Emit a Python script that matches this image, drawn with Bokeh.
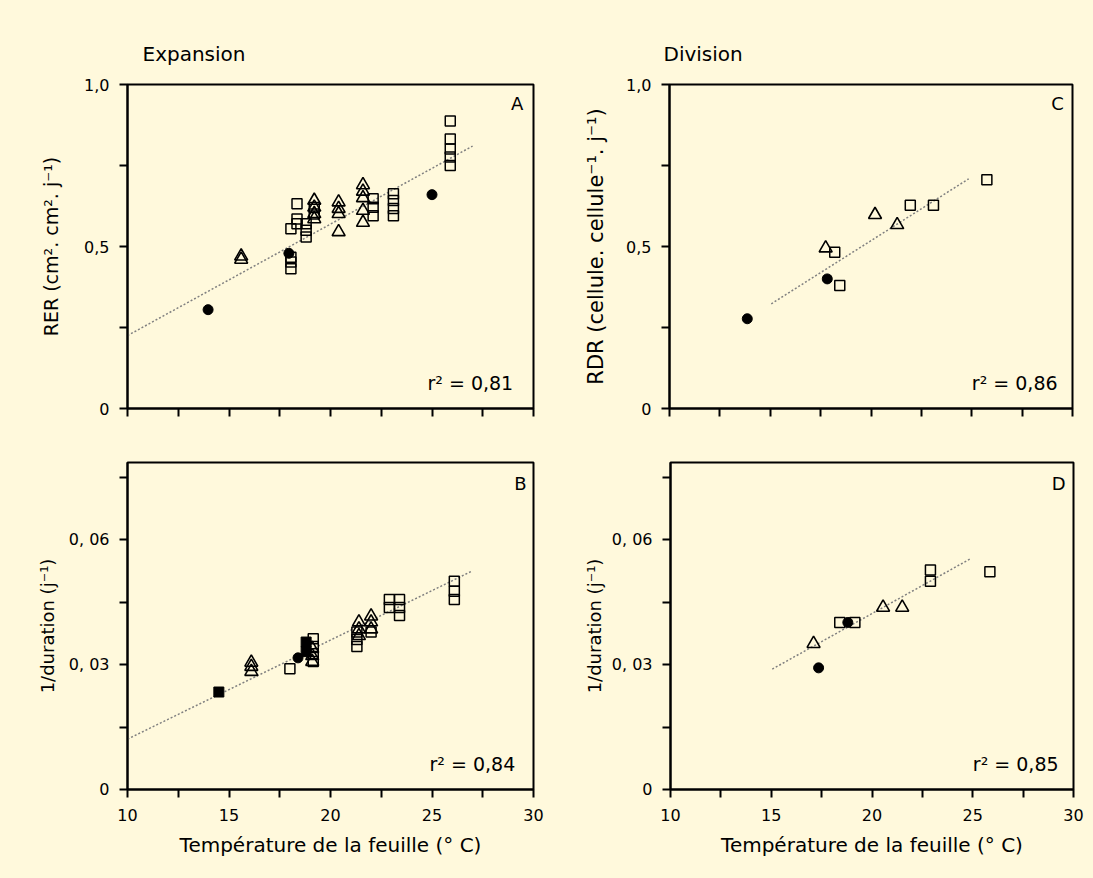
from bokeh.plotting import figure
from bokeh.models import Range1d, FixedTicker, CustomJSTickFormatter, Label
from bokeh.layouts import column, row
from bokeh.embed import file_html
from bokeh.resources import INLINE

BG = "#FFF9DC"
FONT = "DejaVu Sans"

# ---------------- axes ----------------
x_ticks = [10, 12.5, 15, 17.5, 20, 22.5, 25, 27.5, 30]
x_tick_labels = ["10", "", "15", "", "20", "", "25", "", "30"]
x_blank_labels = [""] * 9
rate_ticks = [0, 0.25, 0.5, 0.75, 1.0]
rate_tick_labels = ["0", "", "0,5", "", "1,0"]
dur_ticks = [0, 0.015, 0.03, 0.045, 0.06, 0.075]
dur_tick_labels = ["0", "", "0, 03", "", "0, 06", ""]

# ---------------- panel A : RER (expansion) ----------------
a_sq_x = [18.05, 18.05, 18.05, 18.05, 18.35, 18.35, 18.35, 18.8, 18.8, 18.8, 19.2, 19.2,
          22.1, 22.1, 22.1, 23.1, 23.1, 23.1, 23.1, 25.9, 25.9, 25.9, 25.9, 25.9]
a_sq_y = [0.555, 0.467, 0.452, 0.431, 0.632, 0.585, 0.570, 0.570, 0.550, 0.529, 0.620, 0.600,
          0.647, 0.621, 0.595, 0.663, 0.642, 0.617, 0.595, 0.887, 0.832, 0.801, 0.776, 0.750]
a_tri_x = [15.6, 15.6, 19.2, 19.2, 19.2, 19.2, 20.4, 20.4, 20.4, 20.4,
           21.6, 21.6, 21.6, 21.6, 21.6]
a_tri_y = [0.460, 0.470, 0.642, 0.621, 0.601, 0.585, 0.637, 0.617, 0.601, 0.545,
           0.690, 0.670, 0.650, 0.611, 0.574]
a_cir_x = [13.97, 17.95, 25.0]
a_cir_y = [0.305, 0.479, 0.660]
a_fit_x = [10, 27]
a_fit_y = [0.225, 0.810]
a_r2 = "r² = 0,81"

# ---------------- panel B : 1/duration (expansion) ----------------
b_sq_x = [18.0, 19.15, 19.15, 19.15, 19.15, 21.3, 21.3, 21.3, 22.0, 22.9, 22.9,
          23.4, 23.4, 23.4, 26.1, 26.1, 26.1]
b_sq_y = [0.0290, 0.0362, 0.0343, 0.0326, 0.0307, 0.0378, 0.0360, 0.0343, 0.0378, 0.0456, 0.0437,
          0.0456, 0.0437, 0.0418, 0.0500, 0.0476, 0.0456]
b_tri_x = [16.1, 16.1, 16.1, 19.1, 19.1, 19.1, 21.4, 21.4, 21.4, 22.0, 22.0, 22.0]
b_tri_y = [0.0305, 0.0295, 0.0283, 0.0338, 0.0321, 0.0307, 0.0402, 0.0385, 0.0369,
           0.0416, 0.0402, 0.0385]
b_fsq_x = [14.5, 18.8, 18.8]
b_fsq_y = [0.0234, 0.0354, 0.0331]
b_cir_x = [18.4]
b_cir_y = [0.0316]
b_fit_x = [10, 27]
b_fit_y = [0.0121, 0.0525]
b_r2 = "r² = 0,84"

# ---------------- panel C : RDR (division) ----------------
c_sq_x = [18.2, 18.45, 21.95, 23.1, 25.75]
c_sq_y = [0.482, 0.380, 0.627, 0.627, 0.706]
c_tri_x = [17.75, 20.2, 21.3]
c_tri_y = [0.495, 0.598, 0.567]
c_cir_x = [13.86, 17.83]
c_cir_y = [0.277, 0.400]
c_fit_x = [15.05, 24.85]
c_fit_y = [0.323, 0.709]
c_r2 = "r² = 0,86"

# ---------------- panel D : 1/duration (division) ----------------
d_sq_x = [18.4, 19.15, 22.9, 22.9, 25.85]
d_sq_y = [0.0401, 0.0401, 0.0527, 0.0500, 0.0523]
d_tri_x = [17.1, 20.55, 21.5]
d_tri_y = [0.0350, 0.0437, 0.0437]
d_cir_x = [17.35, 18.8]
d_cir_y = [0.0292, 0.0401]
d_fit_x = [15.05, 24.85]
d_fit_y = [0.0289, 0.0553]
d_r2 = "r² = 0,85"


def fmt(vals, labs):
    return CustomJSTickFormatter(args=dict(vals=vals, labs=labs), code="""
        for (let i = 0; i < vals.length; i++) {
            if (Math.abs(vals[i] - tick) < 1e-9) { return labs[i]; }
        }
        return "";
    """)


def make_fig(fw, fh, bl, br, bt, bb, ymax, yticks, ylabs, xlabs, ylabel, ylabel_size,
             xlabel, lab_standoff):
    p = figure(frame_width=fw, frame_height=fh,
               min_border_left=bl, min_border_right=br, min_border_top=bt, min_border_bottom=bb,
               x_range=Range1d(10, 30), y_range=Range1d(0, ymax),
               output_backend="svg", toolbar_location=None,
               background_fill_color=BG, border_fill_color=BG,
               outline_line_color="black", outline_line_width=2)
    p.xgrid.visible = False
    p.ygrid.visible = False
    for ax in (p.xaxis[0], p.yaxis[0]):
        ax.minor_tick_line_color = None
        ax.major_tick_in = 0
        ax.major_tick_out = 8
        ax.major_tick_line_width = 2
        ax.axis_line_width = 2
        ax.major_label_text_font = FONT
        ax.major_label_text_font_size = "16px"
        ax.major_label_text_color = "black"
        ax.axis_label_text_font = FONT
        ax.axis_label_text_font_style = "normal"
        ax.axis_label_text_color = "black"
    p.xaxis.major_label_standoff = 11
    p.yaxis.major_label_standoff = 10
    p.xaxis.ticker = FixedTicker(ticks=x_ticks)
    p.xaxis.formatter = fmt(x_ticks, xlabs)
    p.yaxis.ticker = FixedTicker(ticks=yticks)
    p.yaxis.formatter = fmt(yticks, ylabs)
    p.yaxis.axis_label = ylabel
    p.yaxis.axis_label_text_font_size = ylabel_size
    p.yaxis.axis_label_standoff = lab_standoff
    if xlabel:
        p.xaxis.axis_label = xlabel
        p.xaxis.axis_label_text_font_size = "20px"
        p.xaxis.axis_label_standoff = 9
    return p


def draw(p, sq_x, sq_y, tri_x, tri_y, cir_x, cir_y, fit_x, fit_y, fsq_x=None, fsq_y=None):
    p.line(fit_x, fit_y, line_color="#808080", line_width=1.5, line_dash="2 2")
    p.scatter(sq_x, sq_y, marker="square", size=10, fill_alpha=0,
              line_color="black", line_width=1.5)
    p.scatter(tri_x, tri_y, marker="triangle", size=13, fill_alpha=0,
              line_color="black", line_width=1.6)
    p.scatter(cir_x, cir_y, marker="circle", size=10, fill_color="black", line_color="black")
    if fsq_x:
        p.scatter(fsq_x, fsq_y, marker="square", size=10, fill_color="black", line_color="black")


def annotate(p, letter, lx, ly, r2, rx, ry):
    p.add_layout(Label(x=lx, y=ly, text=letter, text_align="center", text_baseline="middle",
                       text_font=FONT, text_font_size="18px", text_color="black"))
    p.add_layout(Label(x=rx, y=ry, text=r2, text_align="right", text_baseline="middle",
                       text_font=FONT, text_font_size="19px", text_color="black"))


def title(p, text, offset):
    p.title.text = text
    p.title.align = "left"
    p.title.offset = offset
    p.title.standoff = 37
    p.title.text_font = FONT
    p.title.text_font_size = "20px"
    p.title.text_font_style = "normal"
    p.title.text_color = "black"


XLAB = "Température de la feuille (° C)"

# left column: 127 + 406 + 47 = 580 px ; right column: 89 + 403 + 21 = 513 px
pa = make_fig(406, 324, 127, 47, 84, 27, 1.0, rate_ticks, rate_tick_labels, x_blank_labels,
              "RER (cm². cm². j⁻¹)", "19px", None, 19)
draw(pa, a_sq_x, a_sq_y, a_tri_x, a_tri_y, a_cir_x, a_cir_y, a_fit_x, a_fit_y)
annotate(pa, "A", 29.2, 0.94, a_r2, 29.0, 0.08)
title(pa, "Expansion", 15)

pc = make_fig(403, 324, 89, 21, 84, 27, 1.0, rate_ticks, rate_tick_labels, x_blank_labels,
              "RDR (cellule. cellule⁻¹. j⁻¹)", "21px", None, 15)
draw(pc, c_sq_x, c_sq_y, c_tri_x, c_tri_y, c_cir_x, c_cir_y, c_fit_x, c_fit_y)
annotate(pc, "C", 29.26, 0.94, c_r2, 29.26, 0.08)
title(pc, "Division", -6)

pb = make_fig(406, 327, 127, 47, 27, 89, 0.0785, dur_ticks, dur_tick_labels, x_tick_labels,
              "1/duration (j⁻¹)", "18px", XLAB, 8)
draw(pb, b_sq_x, b_sq_y, b_tri_x, b_tri_y, b_cir_x, b_cir_y, b_fit_x, b_fit_y, b_fsq_x, b_fsq_y)
annotate(pb, "B", 29.35, 0.0734, b_r2, 29.1, 0.0062)

pd_ = make_fig(403, 327, 89, 21, 27, 89, 0.0785, dur_ticks, dur_tick_labels, x_tick_labels,
               "1/duration (j⁻¹)", "18px", XLAB, 4)
draw(pd_, d_sq_x, d_sq_y, d_tri_x, d_tri_y, d_cir_x, d_cir_y, d_fit_x, d_fit_y)
annotate(pd_, "D", 29.26, 0.0734, d_r2, 29.26, 0.0062)

layout = column(row(pa, pc), row(pb, pd_))
layout.background = BG

open("out.html", "w").write(file_html(layout, INLINE))
